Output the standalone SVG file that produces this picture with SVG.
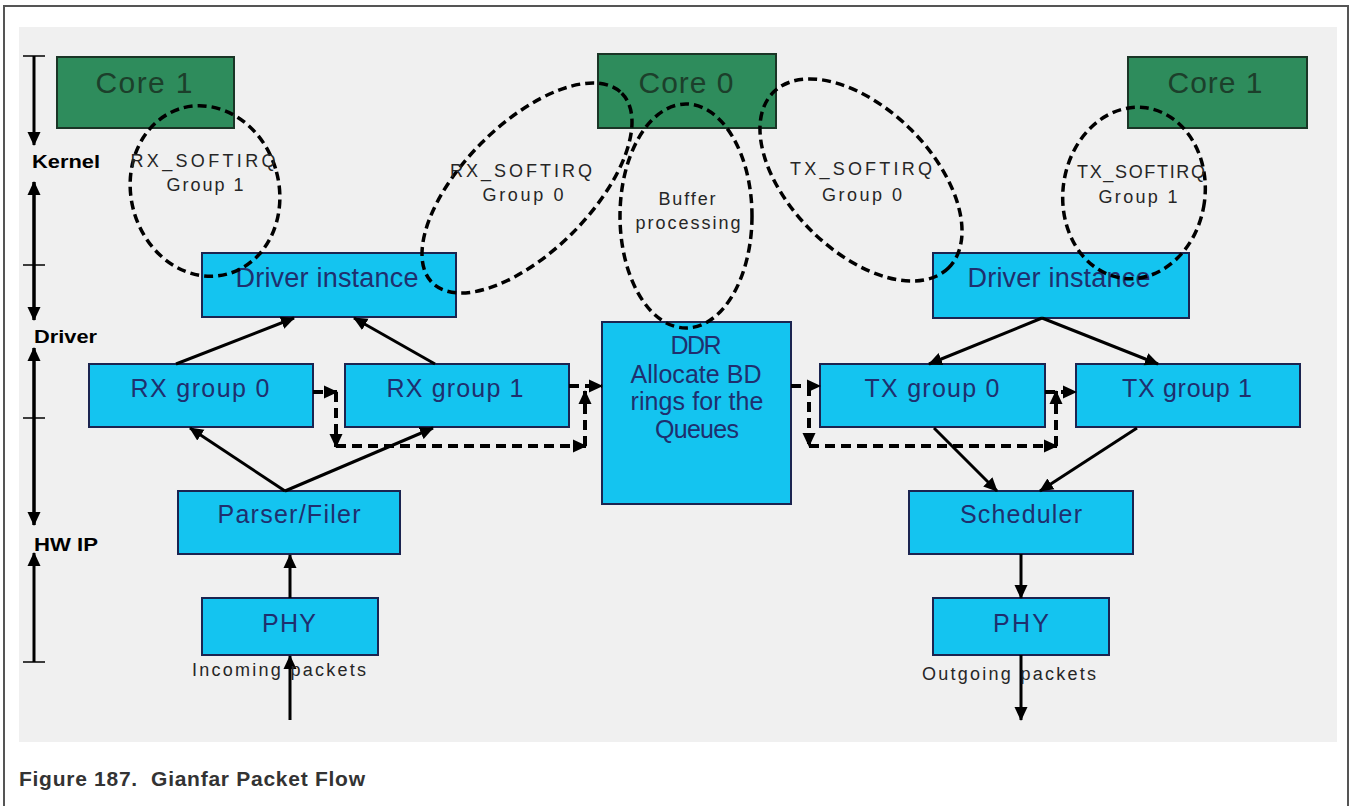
<svg xmlns="http://www.w3.org/2000/svg" width="1352" height="806" viewBox="0 0 1352 806">
<defs>
<style>
.blue{fill:#14c4f0;stroke:#1b2450;stroke-width:2}
.green{fill:#2e8c5c;stroke:#1a3526;stroke-width:2}
.bt{font-family:"Liberation Sans",Arial,sans-serif;fill:#1f2f6e;text-anchor:middle}
.gt{font-family:"Liberation Sans",Arial,sans-serif;fill:#1c3f2b;text-anchor:middle;font-size:30px}
.lbl{font-family:"Liberation Sans",Arial,sans-serif;fill:#262626;text-anchor:middle;font-size:18px}
.ax{font-family:"Liberation Sans",Arial,sans-serif;fill:#000;font-weight:bold;font-size:18px}
.sol{stroke:#000;stroke-width:3;fill:none;marker-end:url(#ah)}
.dsh{stroke:#000;stroke-width:4;fill:none;stroke-dasharray:10 6;marker-end:url(#ah)}
.ell{stroke:#000;stroke-width:3.5;fill:none;stroke-dasharray:9 5}
.axl{stroke:#000;stroke-width:3;fill:none}
.tick{stroke:#000;stroke-width:1.5}
</style>
<marker id="ah" viewBox="0 0 14 14" markerWidth="14" markerHeight="14" refX="13" refY="7" orient="auto" markerUnits="userSpaceOnUse">
<path d="M0,0.5 L14,7 L0,13.5 z" fill="#000"/>
</marker>
<marker id="ax" viewBox="0 0 14 14" markerWidth="14" markerHeight="14" refX="13" refY="7" orient="auto" markerUnits="userSpaceOnUse">
<path d="M0,0.5 L14,7 L0,13.5 z" fill="#000"/>
</marker>
</defs>
<rect x="0" y="0" width="1352" height="806" fill="#fff"/>
<rect x="4" y="6" width="1344" height="820" fill="#fff" stroke="#555" stroke-width="2"/>
<rect x="19" y="27" width="1318" height="715" fill="#f0f0f0"/>

<g id="axis">
<path class="axl" d="M34,56 L34,145" marker-end="url(#ax)"/>
<path class="axl" d="M34,320 L34,182" marker-end="url(#ax)"/>
<path class="axl" d="M34,182 L34,320" marker-end="url(#ax)"/>
<path class="axl" d="M34,525 L34,348" marker-end="url(#ax)"/>
<path class="axl" d="M34,348 L34,525" marker-end="url(#ax)"/>
<path class="axl" d="M34,662 L34,553" marker-end="url(#ax)"/>
<line class="tick" x1="23" y1="56" x2="45" y2="56"/>
<line class="tick" x1="23" y1="265" x2="45" y2="265"/>
<line class="tick" x1="23" y1="418" x2="45" y2="418"/>
<line class="tick" x1="23" y1="662" x2="45" y2="662"/>
<text class="ax" x="32" y="168" textLength="68" lengthAdjust="spacingAndGlyphs">Kernel</text>
<text class="ax" x="34" y="343" textLength="63" lengthAdjust="spacingAndGlyphs">Driver</text>
<text class="ax" x="34" y="551" textLength="64" lengthAdjust="spacingAndGlyphs">HW IP</text>
</g>

<g id="core1-left"><rect class="green" x="57" y="57" width="177" height="71"/><text class="gt" x="144" y="93" textLength="97">Core 1</text></g>
<g id="core0"><rect class="green" x="598" y="54" width="178" height="74"/><text class="gt" x="686" y="93" textLength="95">Core 0</text></g>
<g id="core1-right"><rect class="green" x="1128" y="57" width="179" height="71"/><text class="gt" x="1215" y="93" textLength="95">Core 1</text></g>

<g id="driver-left"><rect class="blue" x="202" y="253" width="254" height="64"/><text class="bt" x="327" y="287" font-size="27" textLength="183">Driver instance</text></g>
<g id="driver-right"><rect class="blue" x="933" y="253" width="256" height="65"/><text class="bt" x="1059" y="287" font-size="27" textLength="183">Driver instance</text></g>

<g id="rx-group0"><rect class="blue" x="89" y="364" width="224" height="63"/><text class="bt" x="200" y="397" font-size="25" textLength="139">RX group 0</text></g>
<g id="rx-group1"><rect class="blue" x="345" y="364" width="224" height="63"/><text class="bt" x="455" y="397" font-size="25" textLength="137">RX group 1</text></g>
<g id="ddr"><rect class="blue" x="602" y="322" width="189" height="182"/>
<text class="bt" x="696" y="354" font-size="25" textLength="51">DDR</text>
<text class="bt" x="696" y="383" font-size="25" textLength="131">Allocate BD</text>
<text class="bt" x="697" y="410" font-size="25" textLength="133">rings for the</text>
<text class="bt" x="697" y="438" font-size="25" textLength="84">Queues</text></g>
<g id="tx-group0"><rect class="blue" x="820" y="364" width="225" height="63"/><text class="bt" x="932" y="397" font-size="25" textLength="135">TX group 0</text></g>
<g id="tx-group1"><rect class="blue" x="1076" y="364" width="224" height="63"/><text class="bt" x="1187" y="397" font-size="25" textLength="130">TX group 1</text></g>
<g id="parser"><rect class="blue" x="178" y="491" width="222" height="63"/><text class="bt" x="289" y="523" font-size="25" textLength="143">Parser/Filer</text></g>
<g id="scheduler"><rect class="blue" x="909" y="491" width="224" height="63"/><text class="bt" x="1021" y="523" font-size="25" textLength="122">Scheduler</text></g>
<g id="phy-left"><rect class="blue" x="202" y="598" width="176" height="57"/><text class="bt" x="289" y="632" font-size="25" textLength="54">PHY</text></g>
<g id="phy-right"><rect class="blue" x="933" y="598" width="176" height="57"/><text class="bt" x="1021" y="632" font-size="25" textLength="56">PHY</text></g>

<g id="connectors">
<path class="sol" d="M290,720 L290,656"/>
<path class="sol" d="M290,598 L290,555"/>
<path class="sol" d="M285,491 L190,428"/>
<path class="sol" d="M285,491 L433,428"/>
<path class="sol" d="M176,364 L294,318" stroke-width="4"/>
<path class="sol" d="M435,364 L354,318" stroke-width="4"/>
<path class="sol" d="M1042,318 L929,364"/>
<path class="sol" d="M1042,318 L1158,364"/>
<path class="sol" d="M934,428 L997,491"/>
<path class="sol" d="M1137,428 L1040,491"/>
<path class="sol" d="M1021,554 L1021,598"/>
<path class="sol" d="M1021,655 L1021,720"/>
<path class="dsh" d="M313,392 L337,392"/>
<path class="dsh" d="M336,392 L336,447"/>
<path class="dsh" d="M336,446 L586,446"/>
<path class="dsh" d="M585,446 L585,391"/>
<path class="dsh" d="M569,386 L602,386"/>
<path class="dsh" d="M791,386 L820,386"/>
<path class="dsh" d="M809,386 L809,446"/>
<path class="dsh" d="M809,446 L1057,446"/>
<path class="dsh" d="M1056,446 L1056,391"/>
<path class="dsh" d="M1045,392 L1076,392"/>
</g>

<text class="lbl" x="279" y="676" font-size="18" textLength="174">Incoming packets</text>
<text class="lbl" x="1009" y="680" font-size="18" textLength="174">Outgoing packets</text>

<g id="rx-softirq-g1">
<ellipse class="ell" cx="205" cy="191" rx="74" ry="86" transform="rotate(-15 205 191)"/>
<text class="lbl" x="203" y="167" textLength="145">RX_SOFTIRQ</text>
<text class="lbl" x="205" y="191" textLength="77">Group 1</text>
</g>
<g id="rx-softirq-g0">
<ellipse class="ell" cx="527" cy="188" rx="134" ry="64" transform="rotate(-45 527 188)"/>
<text class="lbl" x="521" y="177" textLength="142">RX_SOFTIRQ</text>
<text class="lbl" x="523" y="201" textLength="81">Group 0</text>
</g>
<g id="buffer-processing">
<ellipse class="ell" cx="686" cy="216" rx="66" ry="112"/>
<text class="lbl" x="687" y="205" textLength="57">Buffer</text>
<text class="lbl" x="688" y="229" textLength="105">processing</text>
</g>
<g id="tx-softirq-g0">
<ellipse class="ell" cx="861" cy="180" rx="124" ry="71" transform="rotate(45 861 180)"/>
<text class="lbl" x="861" y="175" textLength="142">TX_SOFTIRQ</text>
<text class="lbl" x="862" y="201" textLength="80">Group 0</text>
</g>
<g id="tx-softirq-g1">
<ellipse class="ell" cx="1134" cy="193" rx="71" ry="86" transform="rotate(8 1134 193)"/>
<text class="lbl" x="1141" y="178" textLength="128">TX_SOFTIRQ</text>
<text class="lbl" x="1138" y="203" textLength="79">Group 1</text>
</g>

<text x="19" y="786" font-family="'Liberation Sans',Arial,sans-serif" font-weight="bold" font-size="21" fill="#333" textLength="346" xml:space="preserve">Figure 187.  Gianfar Packet Flow</text>
</svg>
